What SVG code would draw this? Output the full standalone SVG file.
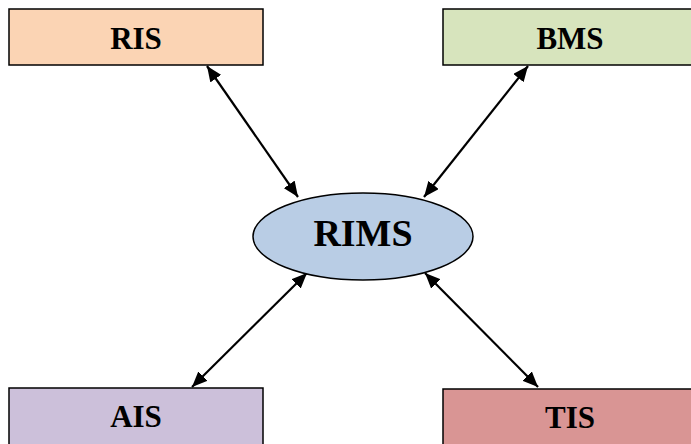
<svg xmlns="http://www.w3.org/2000/svg" width="691" height="444" viewBox="0 0 691 444">
  <style>
    .box { stroke: #000; stroke-width: 1.5; }
    .lbl { font-family: "Liberation Serif", "Times New Roman", serif; font-weight: bold; text-anchor: middle; fill: #000; }
    .conn { stroke: #000; stroke-width: 2.2; fill: none; marker-start: url(#arr); marker-end: url(#arr); }
  </style>
  <defs>
    <marker id="arr" viewBox="0 0 10 10" refX="10" refY="5" markerWidth="7" markerHeight="6" markerUnits="strokeWidth" orient="auto-start-reverse" preserveAspectRatio="none">
      <path d="M0,0 L10,5 L0,10 z" fill="#000"/>
    </marker>
  </defs>
  <rect width="691" height="444" fill="#fff"/>

  <g id="connectors">
    <line class="conn" x1="298" y1="197" x2="207" y2="66"/>
    <line class="conn" x1="424" y1="197" x2="528" y2="66"/>
    <line class="conn" x1="307" y1="273" x2="192" y2="387"/>
    <line class="conn" x1="425" y1="273" x2="538" y2="387"/>
  </g>

  <g id="RIS">
    <rect class="box" x="9" y="9" width="254" height="56" fill="#FBD4B4"/>
    <text class="lbl" x="136" y="49" font-size="31">RIS</text>
  </g>
  <g id="BMS">
    <rect class="box" x="443" y="9" width="254" height="56" fill="#D7E4BD"/>
    <text class="lbl" x="570" y="49" font-size="31">BMS</text>
  </g>
  <g id="AIS">
    <rect class="box" x="9" y="388" width="254" height="60" fill="#CCC0DA"/>
    <text class="lbl" x="136" y="427" font-size="31">AIS</text>
  </g>
  <g id="TIS">
    <rect class="box" x="443" y="389" width="254" height="60" fill="#D99594"/>
    <text class="lbl" x="570" y="428" font-size="31">TIS</text>
  </g>
  <g id="RIMS">
    <ellipse class="box" cx="363" cy="236.5" rx="110" ry="43.5" fill="#B9CDE5"/>
    <text class="lbl" x="363" y="246" font-size="38">RIMS</text>
  </g>
</svg>
